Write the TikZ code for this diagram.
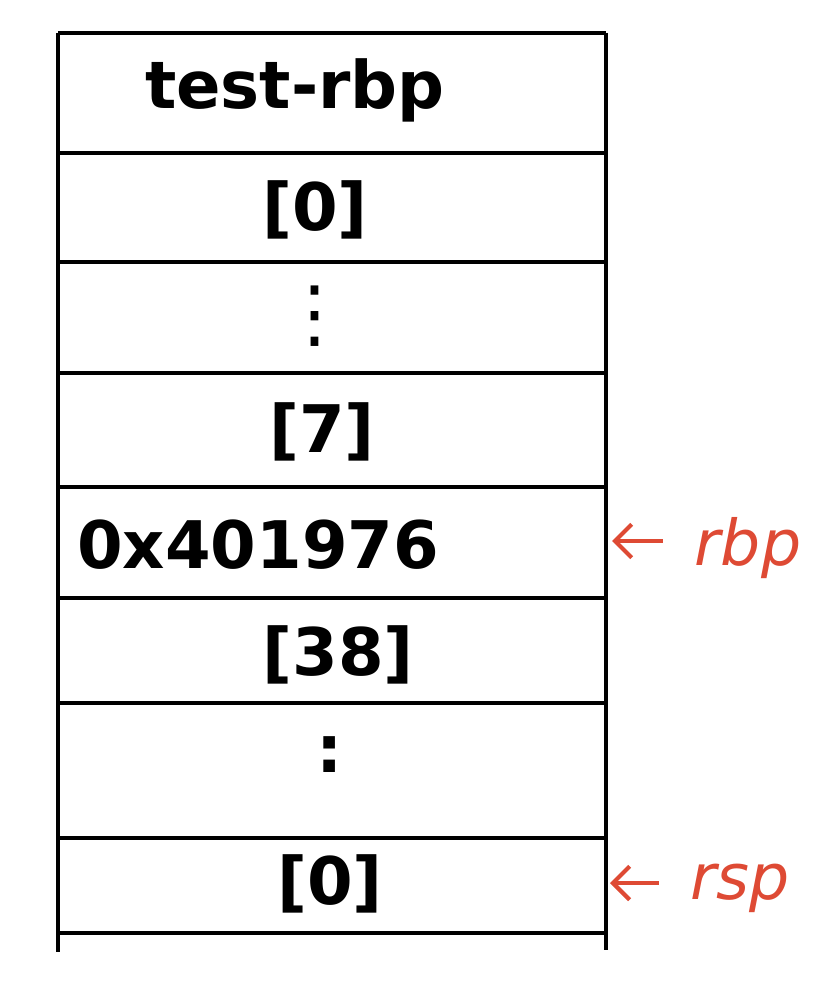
\documentclass[tikz,border=0pt]{standalone}
\usepackage{fontspec}
\usepackage{tikz}
\usetikzlibrary{arrows.meta}
\newfontfamily\handfont{DejaVu Sans}
\definecolor{ptrRed}{RGB}{222,74,52}

\begin{document}
\begin{tikzpicture}[x=0.03cm, y=-0.03cm, >={Straight Barb[length=5mm, width=10mm]},
    cell/.style={font=\handfont\bfseries\fontsize{56}{64}\selectfont, inner sep=0pt},
    dots/.style={font=\handfont\fontsize{64}{70}\selectfont, inner sep=0pt},
    ptr/.style={font=\handfont\itshape\fontsize{54}{62}\selectfont, text=ptrRed, inner sep=0pt}]
    \useasboundingbox (0,0) rectangle (833,984);
    % --- stack frame ---
    \draw[line width=3pt] (58,33) -- (58,952);
    \draw[line width=3pt] (606,33) -- (606,950);
    \foreach \y in {33,153,262,373,487,598,703,838,933}
      \draw[line width=3pt] (58,\y) -- (606,\y);
    % --- cell contents ---
    \node[cell] (saved) at (295,90) {test-rbp};
    \node[cell] (first) at (315,210) {[0]};
    \node[dots] (gapa) at (315,316) {⋮};
    \node[cell] (last) at (322,432) {[7]};
    \node[cell] (ret) at (258,545) {0x401976};
    \node[cell] (top) at (338,655) {[38]};
    \node[cell] (gapb) at (330,755) {:};
    \node[cell] (bottom) at (330,884) {[0]};
    % --- register pointers ---
    \node[ptr] (rbp) at (748,548) {rbp};
    \node[ptr] (rsp) at (740,888) {rsp};
    \coordinate (rbpend) at (612,541);
    \coordinate (rspend) at (610,883);
    \draw[->, ptrRed, line width=3.6pt, shorten <=27] (rbp.west |- rbpend) -- (rbpend);
    \draw[->, ptrRed, line width=3.6pt, shorten <=27] (rsp.west |- rspend) -- (rspend);
  \end{tikzpicture}
\end{document}
